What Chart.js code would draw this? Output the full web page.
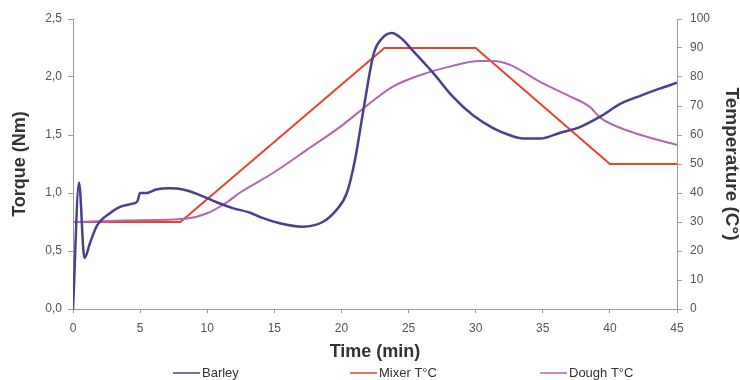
<!DOCTYPE html>
<html>
<head>
<meta charset="utf-8">
<script src="https://cdn.jsdelivr.net/npm/chart.js@4/dist/chart.umd.min.js"></script>
<style>
  html, body { margin: 0; padding: 0; background: #fff; }
  #wrap { width: 740px; height: 380px; }
</style>
</head>
<body>
<div id="wrap"><canvas id="chart"></canvas></div>
<script>
// Barley torque (Nm) against time (min)
const barleyTime = [0, 0.45, 0.85, 1.3, 1.8, 2.8, 3.5, 4.5, 4.8, 5.0, 5.5, 6.2, 7.2, 8.2, 9.5, 10.7, 11.9, 13.2, 14.0, 15.4, 17.1, 18.6, 19.6, 20.4, 21.0, 21.6, 22.4, 23.0, 23.75, 24.5, 25.3, 26.8, 28.3, 29.8, 31.3, 32.5, 33.5, 34.8, 36.3, 37.8, 39.3, 40.8, 42.3, 43.7, 45];
const barleyTorque = [0, 1.09, 0.44, 0.58, 0.72, 0.83, 0.88, 0.91, 0.93, 1.0, 1.0, 1.03, 1.04, 1.03, 0.98, 0.92, 0.87, 0.83, 0.79, 0.74, 0.71, 0.75, 0.85, 1.0, 1.28, 1.69, 2.2, 2.33, 2.38, 2.33, 2.23, 2.04, 1.83, 1.67, 1.56, 1.5, 1.47, 1.47, 1.52, 1.57, 1.66, 1.77, 1.84, 1.9, 1.95];

// Mixer temperature (°C)
const mixerTime = [0, 8, 23.2, 30, 40, 45];
const mixerTemp = [30, 30, 90, 90, 50, 50];

// Dough temperature (°C)
const doughTime = [0, 4, 8.5, 10, 11.5, 12.4, 14.9, 17.4, 19.9, 22.4, 23.8, 25.9, 27.9, 30.3, 31.3, 32.6, 34.8, 36.8, 38.5, 39.3, 40.8, 42.3, 45];
const doughTemp = [30, 30.5, 31.2, 33, 36.9, 40, 46.9, 54.8, 62.8, 72, 76.6, 80.7, 83.4, 85.5, 85.5, 84.1, 78.3, 73.8, 69.7, 65.9, 62.4, 60, 56.6];

const seriesLabels = ["Barley", "Mixer T°C", "Dough T°C"];

const toPoints = (xs, ys) => xs.map((x, i) => ({ x: x, y: ys[i] }));

const tickFont = { family: "Liberation Sans", size: 12 };
const titleFont = { family: "Liberation Sans", size: 18, weight: "bold" };
const axisGrey = "#9a9a9a";

// legend drawn by hand so items sit where the original has them
const legendPlugin = {
    id: "bottomLegend",
    afterDraw(chart) {
        const ctx = chart.ctx;
        const xs = [173, 350, 540];
        const y = 373;
        ctx.save();
        ctx.font = "13px 'Liberation Sans'";
        ctx.textBaseline = "middle";
        ctx.textAlign = "left";
        chart.data.datasets.forEach((ds, i) => {
            ctx.strokeStyle = ds.borderColor;
            ctx.lineWidth = 1.5;
            ctx.beginPath();
            ctx.moveTo(xs[i], y);
            ctx.lineTo(xs[i] + 27, y);
            ctx.stroke();
            ctx.fillStyle = "#333";
            ctx.fillText(ds.label, xs[i] + 29, y);
        });
        ctx.restore();
    }
};

new Chart(document.getElementById("chart"), {
    type: "line",
    data: {
        datasets: [
            {
                label: seriesLabels[0],
                data: toPoints(barleyTime, barleyTorque),
                borderColor: "#4b3f8e",
                borderWidth: 2.5,
                pointRadius: 0,
                cubicInterpolationMode: "monotone",
                yAxisID: "y",
                order: 1
            },
            {
                label: seriesLabels[1],
                data: toPoints(mixerTime, mixerTemp),
                borderColor: "#e8432c",
                borderWidth: 2,
                pointRadius: 0,
                yAxisID: "y1",
                order: 3
            },
            {
                label: seriesLabels[2],
                data: toPoints(doughTime, doughTemp),
                borderColor: "#b266ae",
                borderWidth: 2,
                pointRadius: 0,
                cubicInterpolationMode: "monotone",
                yAxisID: "y1",
                order: 2
            }
        ]
    },
    options: {
        responsive: true,
        maintainAspectRatio: false,
        animation: false,
        layout: { padding: { top: 19, left: 0, right: 0, bottom: 0 } },
        plugins: {
            legend: { display: false },
            tooltip: { enabled: false }
        },
        scales: {
            x: {
                type: "linear",
                min: 0,
                max: 45,
                ticks: { stepSize: 5, font: tickFont, color: "#555", padding: 8 },
                grid: { display: true, drawOnChartArea: false, color: axisGrey, tickLength: 4 },
                border: { color: axisGrey },
                title: { display: true, text: "Time (min)", font: titleFont, color: "#333", padding: { top: 0, bottom: 17 } },
                afterFit: (scale) => { scale.height = 71; }
            },
            y: {
                position: "left",
                min: 0,
                max: 2.5,
                ticks: {
                    stepSize: 0.5,
                    font: tickFont,
                    color: "#555",
                    padding: 6,
                    callback: (v) => v.toFixed(1).replace(".", ",")
                },
                grid: { display: true, drawOnChartArea: false, color: axisGrey, tickLength: 5 },
                border: { color: axisGrey },
                title: { display: true, text: "Torque (Nm)", font: titleFont, color: "#333", padding: { top: 9, bottom: 0 } },
                afterFit: (scale) => { scale.width = 73; }
            },
            y1: {
                position: "right",
                min: 0,
                max: 100,
                ticks: { stepSize: 10, font: tickFont, color: "#555", padding: 8 },
                grid: { display: true, drawOnChartArea: false, color: axisGrey, tickLength: 5 },
                border: { color: axisGrey },
                title: { display: true, text: "Temperature (C°)", font: { family: "Liberation Sans", size: 19, weight: "bold" }, color: "#333", padding: { top: -3, bottom: 0 } },
                afterFit: (scale) => { scale.width = 63; }
            }
        }
    },
    plugins: [legendPlugin]
});
</script>
</body>
</html>
